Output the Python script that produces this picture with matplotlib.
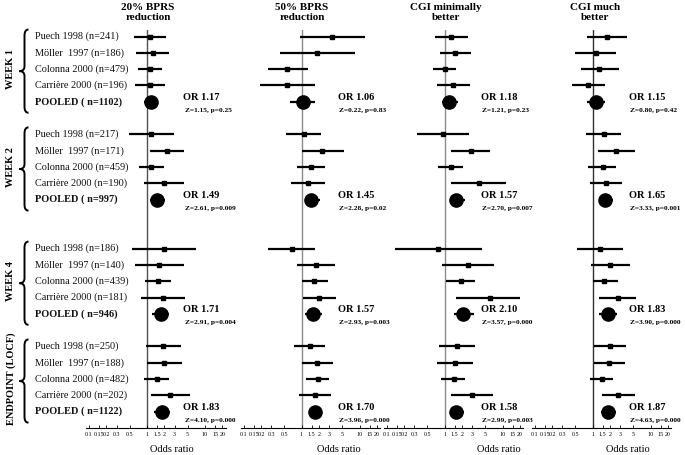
import math
import matplotlib
matplotlib.use("Agg")
import matplotlib.pyplot as plt
from matplotlib.path import Path
from matplotlib.patches import PathPatch

plt.rcParams['font.family'] = ['Liberation Serif', 'DejaVu Serif']

# rows: 4 studies + pooled, for week 1, week 2, week 4, endpoint
weeks = ["WEEK 1", "WEEK 2", "WEEK 4", "ENDPOINT (LOCF)"]
studies = [
    ["Puech 1998 (n=241)", "Möller  1997 (n=186)", "Colonna 2000 (n=479)", "Carrière 2000 (n=196)", "POOLED ( n=1102)"],
    ["Puech 1998 (n=217)", "Möller  1997 (n=171)", "Colonna 2000 (n=459)", "Carrière 2000 (n=190)", "POOLED ( n=997)"],
    ["Puech 1998 (n=186)", "Möller  1997 (n=140)", "Colonna 2000 (n=439)", "Carrière 2000 (n=181)", "POOLED ( n=946)"],
    ["Puech 1998 (n=250)", "Möller  1997 (n=188)", "Colonna 2000 (n=482)", "Carrière 2000 (n=202)", "POOLED ( n=1122)"],
]
titles = ["20% BPRS\nreduction", "50% BPRS\nreduction", "CGI minimally\nbetter", "CGI much\nbetter"]

bprs20_pt = [1.14, 1.27, 1.11, 1.11, 1.17,  1.17, 2.21, 1.17, 1.94, 1.49,
             1.94, 1.61, 1.57, 1.89, 1.71,  1.91, 1.96, 1.47, 2.52, 1.83]
bprs20_lo = [0.59, 0.65, 0.69, 0.63, 0.89,  0.48, 1.11, 0.73, 0.90, 1.14,
             0.55, 0.61, 0.91, 0.80, 1.20,  0.96, 1.00, 0.90, 1.17, 1.34]
bprs20_hi = [2.15, 2.43, 1.84, 2.04, 1.40,  2.88, 4.40, 1.94, 4.30, 2.07,
             7.10, 4.40, 2.63, 4.46, 2.42,  3.80, 3.96, 2.43, 5.58, 2.45]

bprs50_pt = [3.38, 1.86, 0.57, 0.57, 1.06,  1.10, 2.30, 1.47, 1.27, 1.45,
             0.68, 1.77, 1.65, 2.04, 1.57,  1.41, 1.86, 1.91, 1.70, 1.70]
bprs50_lo = [0.94, 0.42, 0.26, 0.19, 0.64,  0.54, 1.00, 0.82, 0.65, 1.14,
             0.26, 0.85, 1.01, 1.07, 1.14,  0.75, 1.01, 1.19, 0.90, 1.36]
bprs50_hi = [12.4, 8.30, 1.27, 1.74, 1.74,  2.21, 5.37, 2.59, 2.53, 2.07,
             1.74, 3.71, 2.81, 3.90, 2.27,  2.59, 3.47, 3.00, 3.25, 2.21]

cgimin_pt = [1.32, 1.51, 1.00, 1.39, 1.18,  0.95, 2.81, 1.27, 3.86, 1.57,
             0.77, 2.52, 1.91, 6.03, 2.10,  1.63, 1.53, 1.43, 3.00, 1.58]
cgimin_lo = [0.68, 0.82, 0.63, 0.74, 0.92,  0.34, 1.29, 0.76, 1.32, 1.36,
             0.14, 0.89, 1.07, 1.55, 1.43,  0.80, 0.75, 0.88, 1.30, 1.34]
cgimin_hi = [2.59, 2.88, 1.61, 2.70, 1.68,  2.66, 6.00, 2.10, 11.4, 2.24,
             4.46, 7.00, 3.42, 20.0, 3.25,  3.38, 3.16, 2.30, 6.90, 2.13]

cgimuch_pt = [1.77, 1.13, 1.32, 0.85, 1.15,  1.55, 2.52, 1.49, 1.70, 1.65,
              1.36, 2.04, 1.61, 2.70, 1.83,  1.99, 1.94, 1.43, 2.73, 1.87]
cgimuch_lo = [0.80, 0.50, 0.64, 0.45, 0.80,  0.77, 1.22, 0.85, 0.89, 1.27,
              0.55, 0.94, 1.00, 1.32, 1.32,  1.07, 1.05, 0.91, 1.45, 1.39]
cgimuch_hi = [3.86, 2.53, 2.84, 1.63, 1.65,  3.16, 5.37, 2.56, 3.20, 2.30,
              3.38, 4.40, 2.70, 5.60, 2.63,  3.75, 3.66, 2.30, 5.40, 2.56]

z_labels = [
    ["Z=1.15, p=0.25", "Z=2.61, p=0.009", "Z=2.91, p=0.004", "Z=4.10, p=0.000"],
    ["Z=0.22, p=0.83", "Z=2.28, p=0.02", "Z=2.93, p=0.003", "Z=3.96, p=0.000"],
    ["Z=1.21, p=0.23", "Z=2.70, p=0.007", "Z=3.57, p=0.000", "Z=2.99, p=0.003"],
    ["Z=0.80, p=0.42", "Z=3.33, p=0.001", "Z=3.90, p=0.000", "Z=4.63, p=0.000"],
]

ticks = [0.1, 0.15, 0.2, 0.3, 0.5, 1, 1.5, 2, 3, 5, 10, 15, 20]
tick_labels = ["0.1", "0.15", "0.2", "0.3", "0.5", "1", "1.5", "2", "3", "5", "10", "15", "20"]

panels = [
    (bprs20_pt, bprs20_lo, bprs20_hi),
    (bprs50_pt, bprs50_lo, bprs50_hi),
    (cgimin_pt, cgimin_lo, cgimin_hi),
    (cgimuch_pt, cgimuch_lo, cgimuch_hi),
]

# row index of first row of each week group
group_start = [0, 6, 13, 19]
rows = [g + i for g in group_start for i in range(5)]

W, H = 685, 455
fig = plt.figure(figsize=(W / 100, H / 100), dpi=100)

# pixel layout
one_x = [147, 301.5, 444.5, 592.5]
ref_colors = ['#505050', '#8a8a8a', '#8a8a8a', '#303030']
px_dec = 58.0
xmin, xmax = 0.09, 23
ax_w = px_dec * math.log10(xmax / xmin)
top_px, bot_px = 30, 428
ymin_idx = -0.4
ymax_idx = 24

for k, (pt, lo, hi) in enumerate(panels):
    left_px = one_x[k] - px_dec * math.log10(1 / xmin)
    ax = fig.add_axes([left_px / W, (H - bot_px) / H, ax_w / W, (bot_px - top_px) / H])
    ax.set_xscale('log')
    ax.set_xlim(xmin, xmax)
    ax.set_ylim(ymax_idx, ymin_idx)
    for s in ['top', 'right', 'left']:
        ax.spines[s].set_visible(False)
    ax.spines['bottom'].set_linewidth(0.8)
    ax.set_yticks([])
    ax.set_xticks(ticks)
    ax.set_xticklabels(tick_labels, fontsize=4.3)
    ax.minorticks_off()
    ax.tick_params(axis='x', direction='in', length=2.5, width=0.6, pad=3)
    ax.patch.set_alpha(0)
    ax.axvline(1, color=ref_colors[k], lw=1.0, zorder=1)

    for i, r in enumerate(rows):
        pooled = (i % 5 == 4)
        ax.plot([lo[i], hi[i]], [r, r], color='black', lw=1.6, solid_capstyle='butt', zorder=2)
        if pooled:
            ax.plot(pt[i], r, 'o', color='black', ms=9.5, zorder=3)
            w = i // 5
            ax.text(4.2, r - 0.25, "OR %.2f" % pt[i], fontsize=7.5, fontweight='bold', va='center')
            ax.text(4.45, r + 0.55, z_labels[k][w], fontsize=5.3, fontweight='bold', va='center')
        else:
            ax.plot(pt[i], r, 's', color='black', ms=2.6, zorder=3)

# overlay in pixel coordinates for labels and braces
ov = fig.add_axes([0, 0, 1, 1])
ov.set_xlim(0, W)
ov.set_ylim(H, 0)
ov.axis('off')
ov.patch.set_alpha(0)

title_x = [148, 302, 446, 595]
for k in range(4):
    ov.text(title_x[k], 12.5, titles[k], fontsize=8, fontweight='bold', ha='center', va='center',
            linespacing=1.25)

odds_x = [172, 339, 499, 628]
for x in odds_x:
    ov.text(x, 449, "Odds ratio", fontsize=7.5, ha='center', va='center')


def row_px(r):
    return top_px + (r - ymin_idx) / (ymax_idx - ymin_idx) * (bot_px - top_px)


def brace(t, b, xs=24.5, tip=19.5, end=28.5):
    m = (t + b) / 2
    verts = [(end, t), (xs, t), (xs, t + 6),
             (xs, m - 5), (xs, m), (tip, m),
             (xs, m), (xs, m + 5),
             (xs, b - 6), (xs, b), (end, b)]
    codes = [Path.MOVETO, Path.CURVE3, Path.CURVE3,
             Path.LINETO, Path.CURVE3, Path.CURVE3,
             Path.CURVE3, Path.CURVE3,
             Path.LINETO, Path.CURVE3, Path.CURVE3]
    ov.add_patch(PathPatch(Path(verts, codes), fill=False, lw=1.4, color='black'))


for w, g in enumerate(group_start):
    t = row_px(g) - 7
    b = row_px(g + 4) + 11
    brace(t, b)
    ov.text(11, row_px(g + 2), weeks[w], rotation=90, fontsize=7.5, fontweight='bold',
            ha='center', va='center')
    for i in range(5):
        ov.text(35, row_px(g + i), studies[w][i], fontsize=7.4, va='center',
                fontweight='bold' if i == 4 else 'normal', color='#111111')

fig.savefig("out.png", dpi=100)
